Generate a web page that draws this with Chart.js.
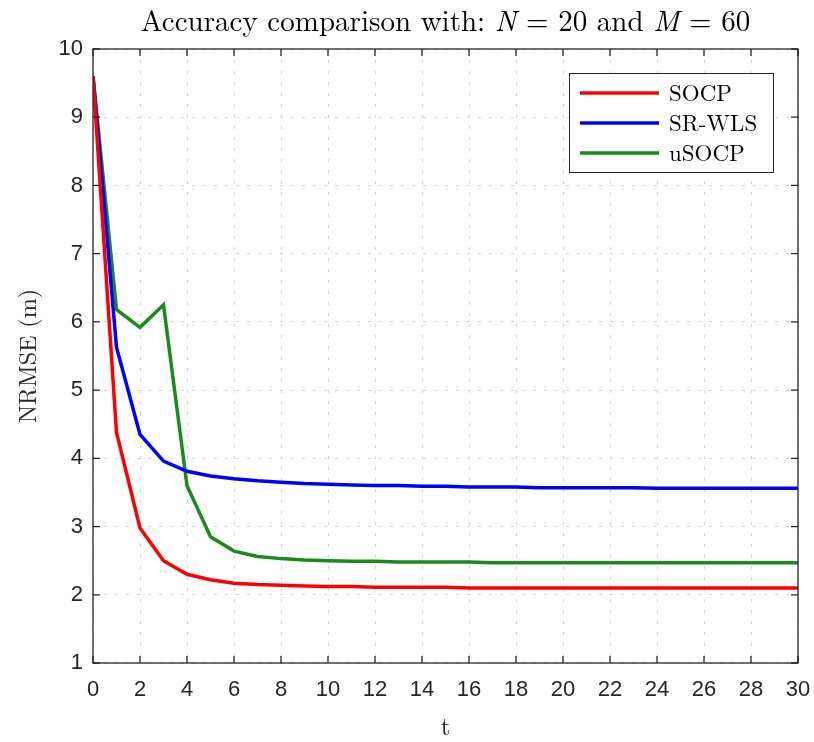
<!DOCTYPE html>
<html>
<head>
<meta charset="utf-8">
<script src="https://cdn.jsdelivr.net/npm/chart.js@4/dist/chart.umd.min.js"></script>
<style>
  html, body { margin: 0; padding: 0; background: #fff; }
  #wrap { width: 814px; height: 742px; }
</style>
</head>
<body>
<div id="wrap"><canvas id="nrmseChart" width="814" height="742"></canvas></div>
<script>
// data
const tValues = [0,1,2,3,4,5,6,7,8,9,10,11,12,13,14,15,16,17,18,19,20,21,22,23,24,25,26,27,28,29,30];
const socp = [9.6, 4.38, 2.98, 2.50, 2.30, 2.22, 2.17, 2.15, 2.14, 2.13, 2.12, 2.12, 2.11, 2.11, 2.11, 2.11,
              2.10, 2.10, 2.10, 2.10, 2.10, 2.10, 2.10, 2.10, 2.10, 2.10, 2.10, 2.10, 2.10, 2.10, 2.10];
const srWls = [9.6, 5.63, 4.35, 3.96, 3.81, 3.74, 3.70, 3.67, 3.65, 3.63, 3.62, 3.61, 3.60, 3.60, 3.59, 3.59,
               3.58, 3.58, 3.58, 3.57, 3.57, 3.57, 3.57, 3.57, 3.56, 3.56, 3.56, 3.56, 3.56, 3.56, 3.56];
const usocp = [9.6, 6.18, 5.92, 6.25, 3.60, 2.85, 2.64, 2.56, 2.53, 2.51, 2.50, 2.49, 2.49, 2.48, 2.48, 2.48,
               2.48, 2.47, 2.47, 2.47, 2.47, 2.47, 2.47, 2.47, 2.47, 2.47, 2.47, 2.47, 2.47, 2.47, 2.47];
const seriesNames = ['SOCP', 'SR-WLS', 'uSOCP'];
const seriesColors = ['#ff0000', '#0000ff', '#1a8a1a'];

const serif = '"Latin Modern Roman", "DejaVu Serif", "Liberation Serif", serif';
const sans = '"Liberation Sans", Arial, sans-serif';

function toPoints(ys) {
    return tValues.map((t, i) => ({x: t, y: ys[i]}));
}

// title with italic N and M, like the LaTeX one
const titlePlugin = {
    id: 'mathTitle',
    afterDraw(chart) {
        const ctx = chart.ctx;
        const parts = [
            ['Accuracy comparison with: ', ''],
            ['N', 'italic '],
            [' = 20 and ', ''],
            ['M', 'italic '],
            [' = 60', '']
        ];
        ctx.save();
        ctx.fillStyle = '#000';
        ctx.textBaseline = 'alphabetic';
        let total = 0;
        parts.forEach(p => { ctx.font = p[1] + '29px ' + serif; total += ctx.measureText(p[0]).width; });
        let x = (chart.chartArea.left + chart.chartArea.right) / 2 - total / 2;
        parts.forEach(p => {
            ctx.font = p[1] + '29px ' + serif;
            ctx.fillText(p[0], x, 31);
            x += ctx.measureText(p[0]).width;
        });
        ctx.restore();
    }
};

// box around the axes, ticks pointing inwards, and the legend box
const framePlugin = {
    id: 'frame',
    afterDatasetsDraw(chart) {
        const ctx = chart.ctx;
        const a = chart.chartArea;
        const xs = chart.scales.x, ys = chart.scales.y;
        ctx.save();
        ctx.strokeStyle = '#262626';
        ctx.lineWidth = 1.3;
        ctx.strokeRect(a.left, a.top, a.right - a.left, a.bottom - a.top);
        ctx.beginPath();
        for (let t = 0; t <= 30; t += 2) {
            const px = xs.getPixelForValue(t);
            ctx.moveTo(px, a.bottom); ctx.lineTo(px, a.bottom - 7);
            ctx.moveTo(px, a.top); ctx.lineTo(px, a.top + 7);
        }
        for (let v = 1; v <= 10; v++) {
            const py = ys.getPixelForValue(v);
            ctx.moveTo(a.left, py); ctx.lineTo(a.left + 7, py);
            ctx.moveTo(a.right, py); ctx.lineTo(a.right - 7, py);
        }
        ctx.stroke();

        // legend
        const lx = 569, ly = 73, lw = 204, lh = 99;
        ctx.fillStyle = '#fff';
        ctx.fillRect(lx, ly, lw, lh);
        ctx.strokeStyle = '#262626';
        ctx.lineWidth = 1;
        ctx.strokeRect(lx + 0.5, ly + 0.5, lw, lh);
        ctx.font = '23px ' + serif;
        ctx.textBaseline = 'middle';
        seriesNames.forEach((name, i) => {
            const yy = ly + 20 + i * 30;
            ctx.strokeStyle = seriesColors[i];
            ctx.lineWidth = 3.5;
            ctx.beginPath();
            ctx.moveTo(lx + 11, yy); ctx.lineTo(lx + 90, yy);
            ctx.stroke();
            ctx.fillStyle = '#000';
            ctx.fillText(name, lx + 100, yy + 1);
        });
        ctx.restore();
    }
};

new Chart(document.getElementById('nrmseChart').getContext('2d'), {
    type: 'line',
    data: {
        datasets: [socp, srWls, usocp].map((ys, i) => ({
            label: seriesNames[i],
            data: toPoints(ys),
            borderColor: seriesColors[i],
            backgroundColor: seriesColors[i],
            borderWidth: 3.5,
            pointRadius: 0,
            tension: 0,
            fill: false
        }))
    },
    options: {
        responsive: false,
        animation: false,
        devicePixelRatio: 1,
        layout: {padding: {left: 0, top: 49, right: 16, bottom: 0}},
        plugins: {legend: {display: false}, tooltip: {enabled: false}, title: {display: false}},
        scales: {
            x: {
                type: 'linear', min: 0, max: 30,
                afterFit(scale) { scale.height = 79; scale.paddingLeft = 0; scale.paddingRight = 0; },
                ticks: {stepSize: 2, color: '#262626', font: {family: sans, size: 22}, padding: 14, maxRotation: 0},
                grid: {color: '#d6d6d6', lineWidth: 1, drawTicks: false},
                border: {display: false, dash: [3, 8]},
                title: {display: true, text: 't', color: '#262626', font: {family: serif, size: 25}, padding: {top: 0, bottom: 0}}
            },
            y: {
                min: 1, max: 10,
                afterFit(scale) { scale.width = 93; scale.paddingTop = 0; scale.paddingBottom = 0; },
                ticks: {stepSize: 1, color: '#262626', font: {family: sans, size: 22}, padding: 10},
                grid: {color: '#d6d6d6', lineWidth: 1, drawTicks: false},
                border: {display: false, dash: [3, 8]},
                title: {display: true, text: 'NRMSE (m)', color: '#262626', font: {family: serif, size: 24}, padding: {top: 14, bottom: 4}}
            }
        }
    },
    plugins: [titlePlugin, framePlugin]
});
</script>
</body>
</html>
